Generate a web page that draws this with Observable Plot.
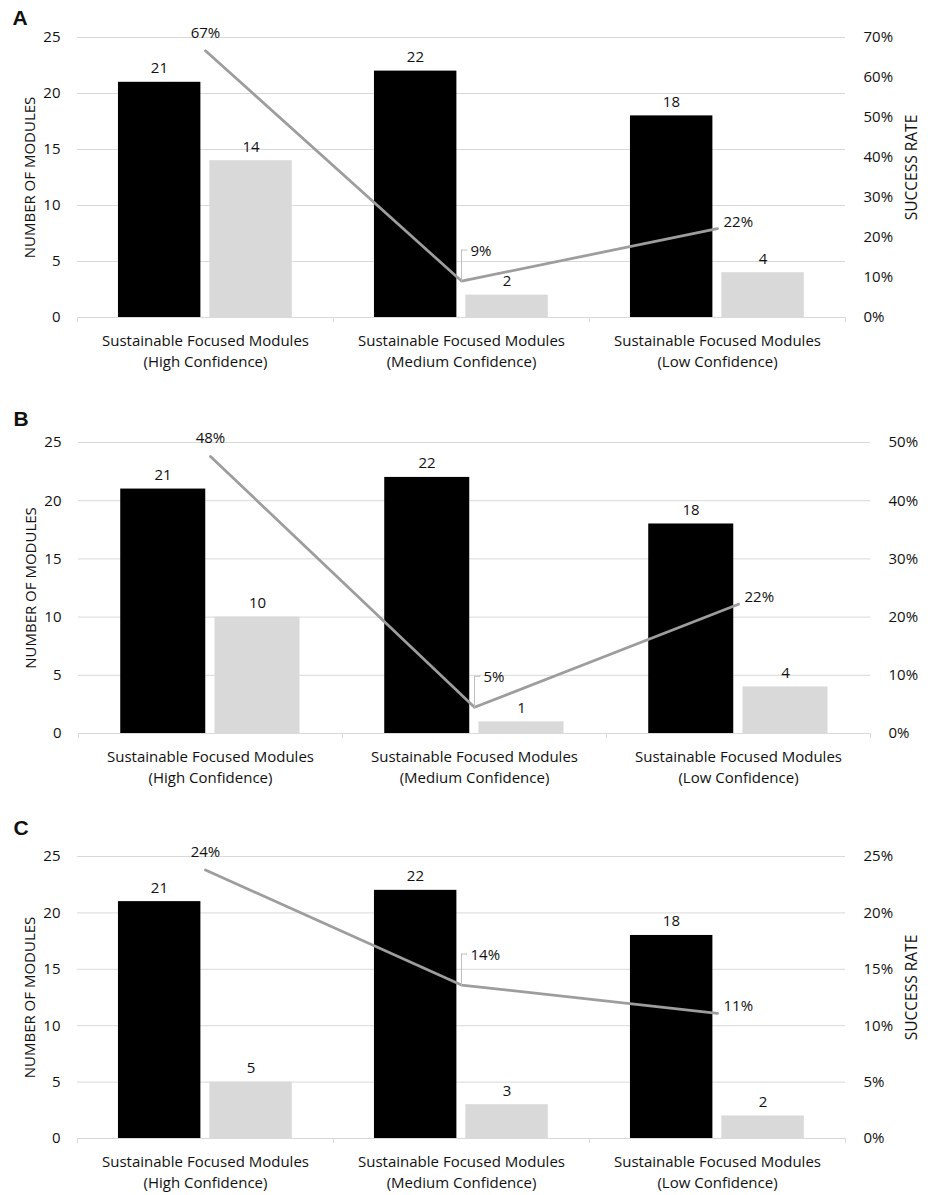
<!DOCTYPE html>
<html>
<head>
<meta charset="utf-8">
<script src="https://cdn.jsdelivr.net/npm/d3@7"></script>
<script src="https://cdn.jsdelivr.net/npm/@observablehq/plot@0.6"></script>
<style>
  body { margin: 0; background: #fff; }
  #wrap { position: relative; width: 935px; height: 1195px; font-family: "Open Sans", sans-serif; }
  .layer { position: absolute; left: 0; }
</style>
</head>
<body>
<div id="wrap"></div>
<script>
// ---------- data ----------
const categories = ["High", "Medium", "Low"];
const categoryLabels = [
  "Sustainable Focused Modules\n(High Confidence)",
  "Sustainable Focused Modules\n(Medium Confidence)",
  "Sustainable Focused Modules\n(Low Confidence)"
];
const totalA = [21, 22, 18];
const successA = [14, 2, 4];
const rateA = [0.667, 0.091, 0.222];

const totalB = [21, 22, 18];
const successB = [10, 1, 4];
const rateB = [0.476, 0.045, 0.222];

const totalC = [21, 22, 18];
const successC = [5, 3, 2];
const rateC = [0.238, 0.136, 0.111];

const countTicks = [0, 5, 10, 15, 20, 25];
const rateTicksA = [0, 0.1, 0.2, 0.3, 0.4, 0.5, 0.6, 0.7];
const rateTicksB = [0, 0.1, 0.2, 0.3, 0.4, 0.5];
const rateTicksC = [0, 0.05, 0.1, 0.15, 0.2, 0.25];

const leftTitle = "NUMBER OF MODULES";
const rightTitle = "SUCCESS RATE";

// ---------- layout ----------
const W = 935;
const panels = [
  {letter: "A", total: totalA, success: successA, rate: rateA, rateTicks: rateTicksA, showRight: true,
   top: 0, height: 375, mt: 37, mb: 58, ml: 77, mr: 90, letterDx: -65, letterDy: -15, rightDy: -10},
  {letter: "B", total: totalB, success: successB, rate: rateB, rateTicks: rateTicksB, showRight: false,
   top: 375, height: 410, mt: 67, mb: 52, ml: 78, mr: 65, letterDx: -65, letterDy: -19, rightDy: 0},
  {letter: "C", total: totalC, success: successC, rate: rateC, rateTicks: rateTicksC, showRight: true,
   top: 785, height: 410, mt: 71, mb: 57, ml: 77, mr: 90, letterDx: -64, letterDy: -24, rightDy: -10}
];

const wrap = document.getElementById("wrap");
const fmtPct = d3.format(".0%");
const baseStyle = {fontFamily: "'Open Sans', sans-serif", fontSize: "15px", color: "#111", background: "transparent", overflow: "visible"};

for (const p of panels) {
  const rows = categories.map((c, i) => ({category: c, label: categoryLabels[i], total: p.total[i], success: p.success[i], rate: p.rate[i]}));
  const band = (W - p.ml - p.mr) / categories.length;
  const dims = {width: W, height: p.height, marginTop: p.mt, marginBottom: p.mb, marginLeft: p.ml, marginRight: p.mr, style: baseStyle};

  const bottom = Plot.plot({
    ...dims,
    x: {type: "band", domain: categories, padding: 0},
    y: {domain: [0, 25]},
    marks: [
      Plot.gridY(countTicks.filter(d => d > 0), {stroke: "#d9d9d9", strokeOpacity: 1}),
      Plot.barY(rows, {x: "category", y: "total", fill: "#000", insetLeft: band * 0.16, insetRight: band * 0.518}),
      Plot.barY(rows, {x: "category", y: "success", fill: "#d9d9d9", insetLeft: band * 0.517, insetRight: band * 0.161}),
      Plot.ruleY([0], {stroke: "#d9d9d9"}),
      Plot.axisX({tickFormat: () => "", tickSize: 5, dx: -band / 2, stroke: "#d9d9d9", label: null}),
      Plot.axisX({tickFormat: () => "", tickSize: 5, dx: band / 2, stroke: "#d9d9d9", label: null}),
      Plot.axisX({tickFormat: d => categoryLabels[categories.indexOf(d)], tickSize: 0, tickPadding: 14, lineHeight: 1.4, label: null, fill: "#111"}),
      Plot.axisY({ticks: countTicks, tickSize: 0, tickPadding: 17, label: null, fill: "#111"}),
      Plot.text([leftTitle], {frameAnchor: "left", text: d => d, rotate: -90, textAnchor: "middle", dx: -47, fill: "#111", fontSize: 15}),
      Plot.text(rows, {x: "category", y: "total", text: d => String(d.total), dx: -0.18 * band, dy: -9, lineAnchor: "bottom", fill: "#111"}),
      Plot.text(rows, {x: "category", y: "success", text: d => String(d.success), dx: 0.178 * band, dy: -9, lineAnchor: "bottom", fill: "#111"}),
      Plot.text([p.letter], {frameAnchor: "top-left", text: d => d, dx: p.letterDx, dy: p.letterDy + 2, textAnchor: "start", lineAnchor: "bottom",
        fontWeight: "bold", fontSize: 21, fontFamily: "'Liberation Sans', Arial, sans-serif", fill: "#111"})
    ]
  });

  const rateMax = p.rateTicks[p.rateTicks.length - 1];
  const overlay = Plot.plot({
    ...dims,
    x: {type: "band", domain: categories, padding: 0, axis: null},
    y: {domain: [0, rateMax]},
    marks: [
      Plot.axisY({anchor: "right", ticks: p.rateTicks, tickFormat: fmtPct, tickSize: 0, tickPadding: 18, label: null, fill: "#111"}),
      p.showRight ? Plot.text([rightTitle], {frameAnchor: "right", text: d => d, rotate: -90, textAnchor: "middle", dx: 67, dy: p.rightDy, fill: "#111", fontSize: 15.5}) : null,
      Plot.line(rows, {x: "category", y: "rate", stroke: "#9d9d9d", strokeWidth: 2.75}),
      // leader for the middle label
      Plot.vector([rows[1]], {x: "category", y: "rate", length: 31, rotate: 0, anchor: "start", r: 0, stroke: "#bfbfbf", strokeWidth: 1}),
      Plot.vector([rows[1]], {x: "category", y: "rate", length: 5, rotate: 90, anchor: "start", r: 0, dy: -31, stroke: "#bfbfbf", strokeWidth: 1}),
      Plot.text([rows[0]], {x: "category", y: "rate", text: d => fmtPct(d.rate), dy: -13, lineAnchor: "bottom", fill: "#111"}),
      Plot.text([rows[1]], {x: "category", y: "rate", text: d => fmtPct(d.rate), dx: 9, dy: -25, textAnchor: "start", lineAnchor: "bottom", fill: "#111"}),
      Plot.text([rows[2]], {x: "category", y: "rate", text: d => fmtPct(d.rate), dx: 6, dy: -2, textAnchor: "start", lineAnchor: "bottom", fill: "#111"})
    ]
  });

  for (const el of [bottom, overlay]) {
    el.classList.add("layer");
    el.style.top = p.top + "px";
    wrap.appendChild(el);
  }
}
</script>
</body>
</html>
